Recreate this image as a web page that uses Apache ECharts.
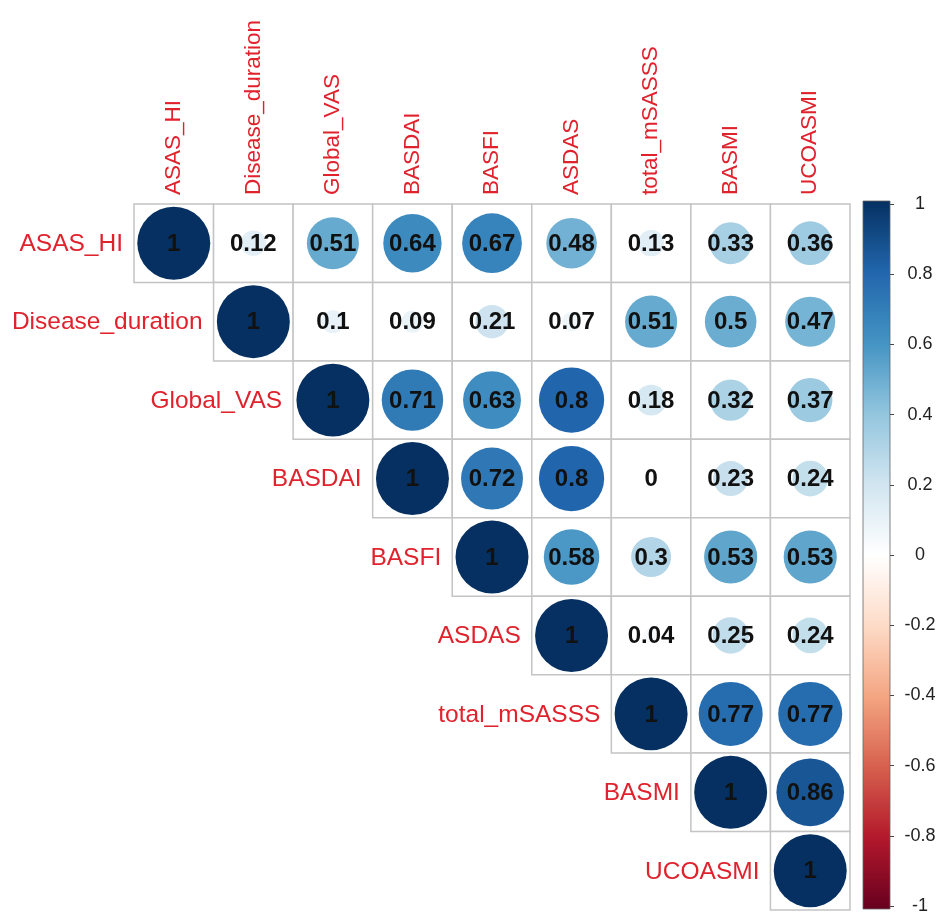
<!DOCTYPE html>
<html>
<head>
<meta charset="utf-8">
<script src="https://cdn.jsdelivr.net/npm/echarts@6/dist/echarts.min.js"></script>
<style>html,body{margin:0;padding:0;background:#fff}#c{width:939px;height:915px}</style>
</head>
<body>
<div id="c"></div>
<script>
var variables = ["ASAS_HI","Disease_duration","Global_VAS","BASDAI","BASFI","ASDAS","total_mSASSS","BASMI","UCOASMI"];
// upper-triangle correlations, row by row starting at the diagonal
var rowASAS_HI        = [1, 0.12, 0.51, 0.64, 0.67, 0.48, 0.13, 0.33, 0.36];
var rowDisease        = [1, 0.1, 0.09, 0.21, 0.07, 0.51, 0.5, 0.47];
var rowGlobalVAS      = [1, 0.71, 0.63, 0.8, 0.18, 0.32, 0.37];
var rowBASDAI         = [1, 0.72, 0.8, 0, 0.23, 0.24];
var rowBASFI          = [1, 0.58, 0.3, 0.53, 0.53];
var rowASDAS          = [1, 0.04, 0.25, 0.24];
var rowMSASSS         = [1, 0.77, 0.77];
var rowBASMI          = [1, 0.86];
var rowUCOASMI        = [1];
var rows = [rowASAS_HI,rowDisease,rowGlobalVAS,rowBASDAI,rowBASFI,rowASDAS,rowMSASSS,rowBASMI,rowUCOASMI];
var colorbarTicks = [-1,-0.8,-0.6,-0.4,-0.2,0,0.2,0.4,0.6,0.8,1];
var rdbu = ["#67001F","#B2182B","#D6604D","#F4A582","#FDDBC7","#FFFFFF","#D1E5F0","#92C5DE","#4393C3","#2166AC","#053061"];

var cells = [];
rows.forEach(function(r, i){ r.forEach(function(v, k){ cells.push([i + k, i, v]); }); });
var diag = variables.map(function(n, i){ return [i, i, n]; });

var RED = "#e0222d";
var FONT = "'Liberation Sans', Arial, sans-serif";

var chart = echarts.init(document.getElementById('c'));
chart.setOption({
  animation: false,
  backgroundColor: '#fff',
  grid: [
    {left: 134, top: 204, width: 716, height: 706},
    {left: 863, top: 204, width: 27, height: 702}
  ],
  xAxis: [
    {type: 'category', gridIndex: 0, data: variables, position: 'top',
     axisLine: {show: false}, axisTick: {show: false}, splitLine: {show: false},
     axisLabel: {rotate: -90, color: RED, fontSize: 22.5, fontFamily: FONT, margin: 9, interval: 0}},
    {type: 'category', gridIndex: 1, data: ['bar'], show: false}
  ],
  yAxis: [
    {type: 'category', gridIndex: 0, data: variables, inverse: true, show: false},
    {type: 'value', gridIndex: 1, min: -1, max: 1, interval: 0.2, position: 'right',
     axisLine: {show: false}, splitLine: {show: false},
     axisTick: {show: true, length: 4, lineStyle: {color: '#444'}},
     axisLabel: {color: '#222', fontSize: 18, fontFamily: FONT, margin: 30, align: 'center',
       formatter: function(v){ var r = Math.round(v * 10) / 10; return String(r); }}}
  ],
  visualMap: {type: 'continuous', show: false, min: -1, max: 1, dimension: 2, seriesIndex: 0, inRange: {color: rdbu}},
  series: [
    {
      type: 'custom', xAxisIndex: 0, yAxisIndex: 0, data: cells,
      renderItem: function(params, api){
        var c = api.coord([api.value(0), api.value(1)]);
        var s = api.size([1, 1]);
        var v = api.value(2);
        var rMax = Math.min(s[0], s[1]) / 2 * 0.93;
        var r = Math.sqrt(Math.abs(v)) * rMax;
        return {type: 'group', children: [
          {type: 'rect', shape: {x: c[0] - s[0]/2, y: c[1] - s[1]/2, width: s[0], height: s[1]},
           style: {fill: '#fff', stroke: '#c4c4c4', lineWidth: 1.5}},
          {type: 'circle', shape: {cx: c[0], cy: c[1], r: r}, style: {fill: api.visual('color')}},
          {type: 'text', x: c[0], y: c[1] + 1, style: {text: String(v), fill: '#111', fontSize: 24, fontWeight: 'bold', fontFamily: FONT, align: 'center', verticalAlign: 'middle'}}
        ]};
      }
    },
    {
      type: 'custom', xAxisIndex: 0, yAxisIndex: 0, data: diag,
      renderItem: function(params, api){
        var c = api.coord([api.value(0), api.value(1)]);
        var s = api.size([1, 1]);
        return {type: 'text', x: c[0] - s[0]/2 - 11, y: c[1] + 1,
          style: {text: variables[params.dataIndex], fill: RED, fontSize: 24.5, fontFamily: FONT, align: 'right', verticalAlign: 'middle'}};
      }
    },
    {
      type: 'custom', xAxisIndex: 1, yAxisIndex: 1, data: [[0, 1]],
      renderItem: function(params, api){
        var top = api.coord([0, colorbarTicks[colorbarTicks.length - 1]]);
        var bot = api.coord([0, colorbarTicks[0]]);
        var w = api.size([1, 0])[0];
        var stops = rdbu.map(function(col, i){ return {offset: 1 - i / (rdbu.length - 1), color: col}; }).reverse();
        return {type: 'rect', shape: {x: top[0] - w/2, y: top[1] - 3, width: w, height: bot[1] - top[1] + 6},
          style: {fill: new echarts.graphic.LinearGradient(0, 0, 0, 1, stops), stroke: '#666', lineWidth: 0.8}};
      }
    }
  ]
});
</script>
</body>
</html>
